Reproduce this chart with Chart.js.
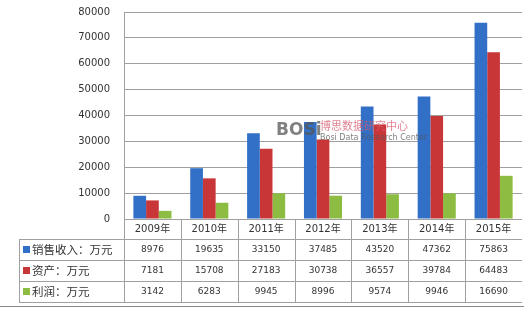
<!DOCTYPE html>
<html>
<head>
<meta charset="utf-8">
<script src="https://cdn.jsdelivr.net/npm/chart.js@4/dist/chart.umd.min.js"></script>
<style>
  html, body { margin: 0; padding: 0; background: #fff; }
  #c { display: block; }
</style>
</head>
<body>
<canvas id="c" width="524" height="309"></canvas>
<script>
"use strict";

const YEARS = ["2009年", "2010年", "2011年", "2012年", "2013年", "2014年", "2015年"];
const SERIES_NAMES = ["销售收入：万元", "资产：万元", "利润：万元"];
const SALES = [8976, 19635, 33150, 37485, 43520, 47362, 75863];
const ASSETS = [7181, 15708, 27183, 30738, 36557, 39784, 64483];
const PROFIT = [3142, 6283, 9945, 8996, 9574, 9946, 16690];
const COLORS = ["#3270c8", "#c93638", "#8cbd42"];

const LINE = "#a0a0a0";
const TEXT = "#333";

// data table under the plot, drawn against the x scale
const tablePlugin = {
  id: "dataTable",
  afterDraw(chart) {
    const { ctx, chartArea: a, scales: { x } } = chart;
    const rows = [SALES, ASSETS, PROFIT];
    const top = a.bottom;
    const rowTop = [top + 20, top + 41, top + 62];
    const bottom = top + 83;
    const left = 19;
    const right = a.right;
    const step = x.getPixelForValue(1) - x.getPixelForValue(0);

    ctx.save();
    ctx.strokeStyle = LINE;
    ctx.lineWidth = 1;
    ctx.beginPath();
    // horizontal lines
    rowTop.concat([bottom]).forEach((y) => {
      ctx.moveTo(left, y + 0.5);
      ctx.lineTo(right, y + 0.5);
    });
    // label column
    ctx.moveTo(left + 0.5, rowTop[0]);
    ctx.lineTo(left + 0.5, bottom);
    // category separators
    for (let i = 0; i < YEARS.length; i++) {
      const xl = Math.round(x.getPixelForValue(i) - step / 2) + 0.5;
      ctx.moveTo(xl, top);
      ctx.lineTo(xl, bottom);
    }
    ctx.stroke();

    // bottom frame line
    ctx.beginPath();
    ctx.strokeStyle = "#888";
    ctx.moveTo(0, 306.5);
    ctx.lineTo(524, 306.5);
    ctx.stroke();

    ctx.fillStyle = TEXT;
    ctx.textAlign = "center";
    ctx.textBaseline = "middle";
    ctx.font = "10px 'DejaVu Sans', 'Noto Sans CJK SC'";
    YEARS.forEach((yr, i) => ctx.fillText(yr, x.getPixelForValue(i), top + 10));

    ctx.font = "9px 'DejaVu Sans'";
    rows.forEach((vals, r) => {
      const cy = rowTop[r] + 11;
      vals.forEach((v, i) => ctx.fillText(String(v), x.getPixelForValue(i), cy));
    });

    ctx.textAlign = "left";
    ctx.font = "11.5px 'Noto Sans CJK SC'";
    SERIES_NAMES.forEach((name, r) => {
      const cy = rowTop[r] + 11;
      ctx.fillStyle = COLORS[r];
      ctx.fillRect(23, cy - 4, 7, 7);
      ctx.fillStyle = TEXT;
      ctx.fillText(name, 32, cy);
    });
    ctx.restore();
  },
};

// faint watermark in the middle of the plot
const watermarkPlugin = {
  id: "watermark",
  afterDatasetsDraw(chart) {
    const { ctx } = chart;
    ctx.save();
    ctx.globalAlpha = 0.75;
    ctx.textBaseline = "alphabetic";
    ctx.textAlign = "left";
    ctx.fillStyle = "#555";
    ctx.font = "bold 17px 'DejaVu Sans'";
    ctx.fillText("BOSi", 276, 135);
    ctx.fillStyle = "#d45a6e";
    ctx.font = "11px 'Noto Sans CJK SC'";
    ctx.fillText("博思数据研究中心", 320, 130);
    ctx.fillStyle = "#555";
    ctx.font = "8px 'DejaVu Sans'";
    ctx.fillText("Bosi Data Research Center", 320, 140);
    ctx.restore();
  },
};

new Chart(document.getElementById("c"), {
  type: "bar",
  data: {
    labels: YEARS,
    datasets: [SALES, ASSETS, PROFIT].map((d, i) => ({
      label: SERIES_NAMES[i],
      data: d,
      backgroundColor: COLORS[i],
      borderWidth: 0,
      categoryPercentage: 0.67,
      barPercentage: 1.0,
    })),
  },
  options: {
    responsive: false,
    devicePixelRatio: 1,
    animation: false,
    layout: { padding: { top: 12, right: 2, bottom: 90, left: 0 } },
    plugins: { legend: { display: false }, tooltip: { enabled: false } },
    scales: {
      x: { display: false },
      y: {
        min: 0,
        max: 80000,
        ticks: {
          stepSize: 10000,
          color: TEXT,
          padding: 3,
          font: { family: "'DejaVu Sans'", size: 10 },
          callback: (v) => String(v),
        },
        grid: { color: LINE, tickColor: "rgba(0,0,0,0)", tickLength: 11 },
        border: { color: LINE },
        afterFit(s) { s.width = 124; },
      },
    },
  },
  plugins: [tablePlugin, watermarkPlugin],
});
</script>
</body>
</html>
